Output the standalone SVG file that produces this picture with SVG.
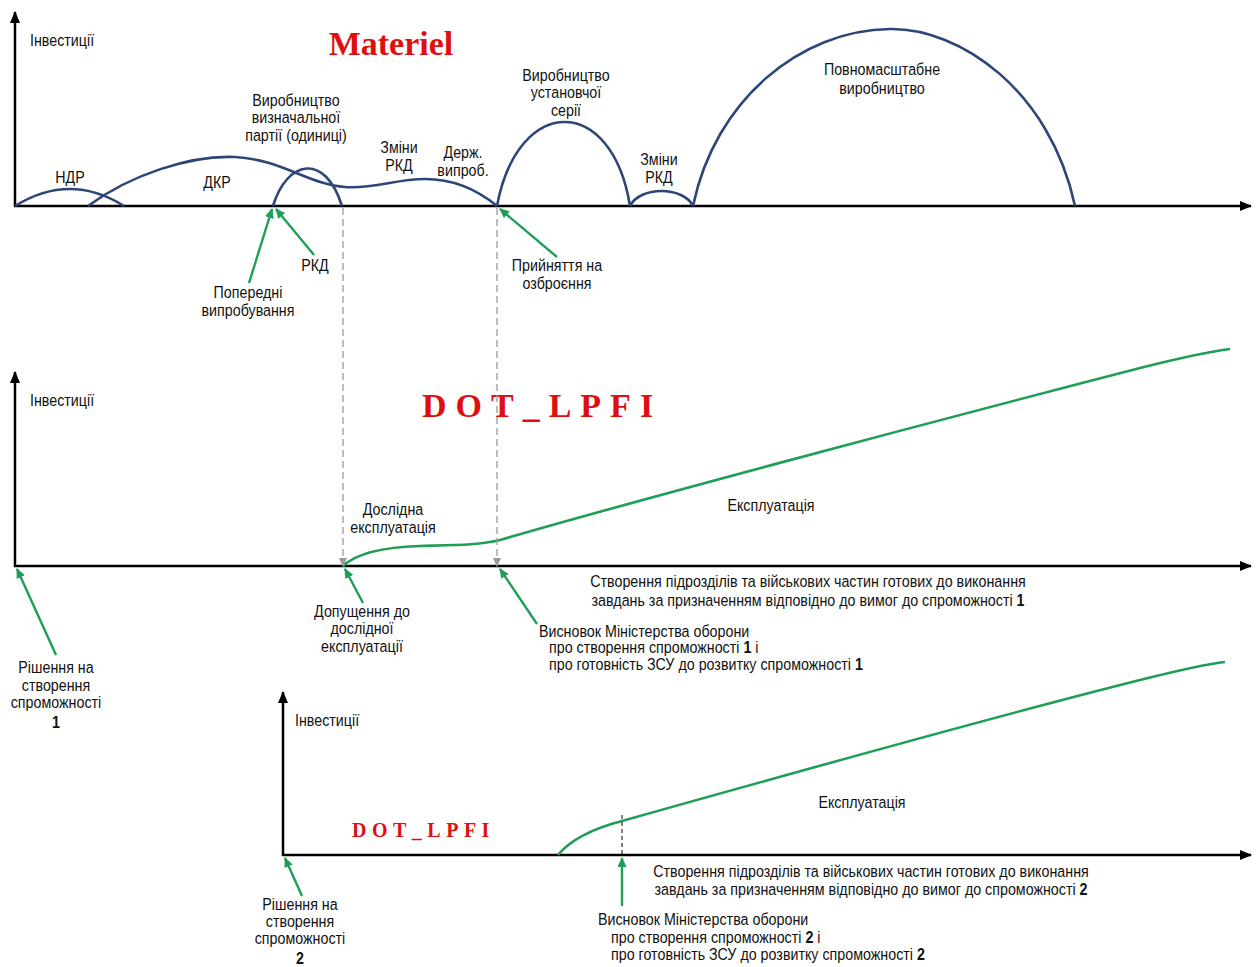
<svg xmlns="http://www.w3.org/2000/svg" width="1259" height="967" viewBox="0 0 1259 967">
<style>
.t{font-family:"Liberation Sans",Arial,sans-serif;font-size:17px;fill:#111}
.c{text-anchor:middle}
.b{font-weight:bold}
.ttl{font-family:"Liberation Serif","Times New Roman",serif;font-weight:bold;fill:#E00F0F}
.ax{stroke:#000;stroke-width:2.5;fill:none}
.bl{stroke:#2E4677;stroke-width:2.6;fill:none}
.gr{stroke:#1F9E57;stroke-width:2.6;fill:none}
.ga{stroke:#1F9E57;stroke-width:2.4;fill:none}
.dg{stroke:#9A9A9A;stroke-width:1.3;stroke-dasharray:7 4;fill:none}
.db{stroke:#000;stroke-width:1;stroke-dasharray:4 3;fill:none}
</style>
<defs>
<marker id="ah" markerUnits="userSpaceOnUse" markerWidth="12" markerHeight="10" refX="11" refY="5" orient="auto"><path d="M0,0 L12,5 L0,10 z" fill="#000"/></marker>
<marker id="gh" markerUnits="userSpaceOnUse" markerWidth="10" markerHeight="9" refX="9" refY="4.5" orient="auto"><path d="M0,0 L10,4.5 L0,9 z" fill="#1F9E57"/></marker>
<marker id="dh" markerUnits="userSpaceOnUse" markerWidth="9" markerHeight="8" refX="8" refY="4" orient="auto"><path d="M0,0 L9,4 L0,8 z" fill="#9A9A9A"/></marker>
</defs>
<rect width="1259" height="967" fill="#fff"/>

<g id="axes">
<line class="ax" x1="15" y1="207" x2="15" y2="12" marker-end="url(#ah)"/>
<line class="ax" x1="14" y1="206" x2="1251" y2="206" marker-end="url(#ah)"/>
<line class="ax" x1="15" y1="567" x2="15" y2="372" marker-end="url(#ah)"/>
<line class="ax" x1="14" y1="566" x2="1251" y2="566" marker-end="url(#ah)"/>
<line class="ax" x1="283" y1="856" x2="283" y2="692" marker-end="url(#ah)"/>
<line class="ax" x1="282" y1="855" x2="1251" y2="855" marker-end="url(#ah)"/>
</g>

<g id="titles">
<text class="ttl" x="391" y="55" font-size="34" text-anchor="middle">Materiel</text>
<text class="ttl" x="422" y="417" font-size="34" letter-spacing="9">DOT_LPFI</text>
<text class="ttl" x="352" y="837" font-size="20" letter-spacing="5.5">DOT_LPFI</text>
</g>

<g id="curves">
<path id="ndr" class="bl" d="M15,206 Q70,172 124,206"/>
<path id="dkr" class="bl" d="M88,206 C130,175 190,155 235,157 C280,159 310,185 345,187 C375,189 395,179 425,179 C455,179 480,192 497,206"/>
<path id="vyzn" class="bl" d="M273,206 C287,160 325,152 342,206"/>
<path id="ust" class="bl" d="M497,206 C518,94 612,94 630,206"/>
<path id="zminy2" class="bl" d="M630,206 C640,186 683,186 693,206"/>
<path id="povn" class="bl" d="M693,206 C715,100 800,30 890,29 C960,28 1050,90 1075,206"/>
<path id="expl1" class="gr" d="M343,566 C358,552 385,547 420,546 C455,545 480,545 500,540 C620,505 900,430 1140,368 C1180,358 1205,352 1230,349"/>
<path id="expl2" class="gr" d="M558,855 C572,838 595,828 622,821 C750,785 1000,715 1140,680 C1180,670 1205,664 1225,662"/>
</g>

<g id="connectors">
<line class="dg" x1="343" y1="208" x2="343" y2="566" marker-end="url(#dh)"/>
<line class="dg" x1="497" y1="208" x2="497" y2="566" marker-end="url(#dh)"/>
<line class="db" x1="622" y1="815" x2="622" y2="855"/>
<line class="ga" x1="249" y1="283" x2="272" y2="209" marker-end="url(#gh)"/>
<line class="ga" x1="314" y1="255" x2="276" y2="209" marker-end="url(#gh)"/>
<line class="ga" x1="557" y1="257" x2="500" y2="209" marker-end="url(#gh)"/>
<line class="ga" x1="56" y1="655" x2="17" y2="569" marker-end="url(#gh)"/>
<line class="ga" x1="363" y1="603" x2="345" y2="569" marker-end="url(#gh)"/>
<line class="ga" x1="537" y1="624" x2="500" y2="569" marker-end="url(#gh)"/>
<line class="ga" x1="302" y1="896" x2="285" y2="858" marker-end="url(#gh)"/>
<line class="ga" x1="622" y1="906" x2="622" y2="858" marker-end="url(#gh)"/>
</g>

<g id="labels" transform="scale(0.84,1)">
<g id="labels-top">
<text class="t" x="35.71" y="46">Інвестиції</text>
<text class="t c" x="83.33" y="183">НДР</text>
<text class="t c" x="258.33" y="188">ДКР</text>
<text class="t c" x="352.38" y="106">Виробництво</text>
<text class="t c" x="352.38" y="123">визначальної</text>
<text class="t c" x="352.38" y="141">партії (одиниці)</text>
<text class="t c" x="475" y="153">Зміни</text>
<text class="t c" x="475" y="171">РКД</text>
<text class="t c" x="551.19" y="158">Держ.</text>
<text class="t c" x="551.19" y="176">випроб.</text>
<text class="t c" x="673.81" y="81">Виробництво</text>
<text class="t c" x="673.81" y="98">установчої</text>
<text class="t c" x="673.81" y="116">серії</text>
<text class="t c" x="784.52" y="165">Зміни</text>
<text class="t c" x="784.52" y="183">РКД</text>
<text class="t c" x="1050" y="75">Повномасштабне</text>
<text class="t c" x="1050" y="94">виробництво</text>
<text class="t c" x="375" y="271">РКД</text>
<text class="t c" x="295.24" y="298">Попередні</text>
<text class="t c" x="295.24" y="316">випробування</text>
<text class="t c" x="663.1" y="271">Прийняття на</text>
<text class="t c" x="663.1" y="289">озброєння</text>
</g>

<g id="labels-mid">
<text class="t" x="35.71" y="406">Інвестиції</text>
<text class="t c" x="467.86" y="515">Дослідна</text>
<text class="t c" x="467.86" y="533">експлуатація</text>
<text class="t c" x="917.86" y="511">Експлуатація</text>
<text class="t c" x="961.9" y="587">Створення підрозділів та військових частин готових до виконання</text>
<text class="t c" x="961.9" y="606">завдань за призначенням відповідно до вимог до спроможності <tspan class="b">1</tspan></text>
<text class="t c" x="430.95" y="617">Допущення до</text>
<text class="t c" x="430.95" y="634">дослідної</text>
<text class="t c" x="430.95" y="652">експлуатації</text>
<text class="t" x="641.67" y="637">Висновок Міністерства оборони</text>
<text class="t" x="653.57" y="653">про створення спроможності <tspan class="b">1</tspan> і</text>
<text class="t" x="653.57" y="670">про готовність ЗСУ до розвитку спроможності <tspan class="b">1</tspan></text>
<text class="t c" x="66.67" y="673">Рішення на</text>
<text class="t c" x="66.67" y="691">створення</text>
<text class="t c" x="66.67" y="708">спроможності</text>
<text class="t c b" x="66.67" y="728" font-size="20">1</text>
</g>

<g id="labels-bottom">
<text class="t" x="351.19" y="726">Інвестиції</text>
<text class="t c" x="1026.19" y="808">Експлуатація</text>
<text class="t c" x="1036.9" y="877">Створення підрозділів та військових частин готових до виконання</text>
<text class="t c" x="1036.9" y="895">завдань за призначенням відповідно до вимог до спроможності <tspan class="b">2</tspan></text>
<text class="t" x="711.9" y="925">Висновок Міністерства оборони</text>
<text class="t" x="727.38" y="943">про створення спроможності <tspan class="b">2</tspan> і</text>
<text class="t" x="727.38" y="960">про готовність ЗСУ до розвитку спроможності <tspan class="b">2</tspan></text>
<text class="t c" x="357.14" y="910">Рішення на</text>
<text class="t c" x="357.14" y="927">створення</text>
<text class="t c" x="357.14" y="944">спроможності</text>
<text class="t c b" x="357.14" y="964" font-size="20">2</text>
</g>
</g>
</svg>
